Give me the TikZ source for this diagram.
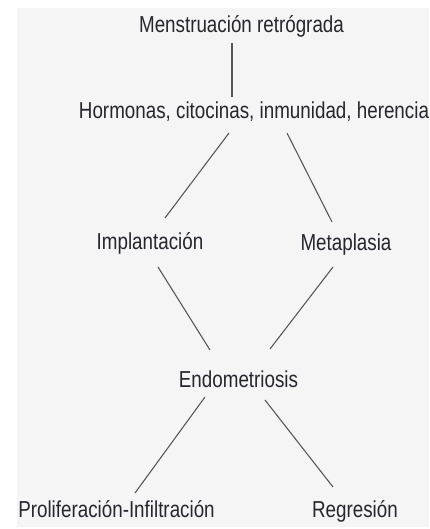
\documentclass[tikz,border=0pt]{standalone}
\usepackage{fontspec}
\setmainfont{Liberation Sans}[FakeStretch=0.815]
\usepackage{tikz}
\usetikzlibrary{positioning,calc}
\definecolor{paper}{HTML}{F5F5F5}
\definecolor{ink}{HTML}{262630}
\definecolor{wire}{HTML}{555555}

\begin{document}
\begin{tikzpicture} [x=0.75pt, y=-0.75pt,
        nodes={inner sep=0, anchor=base, text=ink, font=\fontsize{17.3}{20}\selectfont},
        link/.style={-, line width=0.8pt, wire}]
        \useasboundingbox (0,0) rectangle (429,529);
        \fill[paper] (17,8) rectangle (429,527);
        \node (mens) at (241.5,32) {Menstruación retrógrada};
        \node (horm) at (254,118) {Hormonas, citocinas, inmunidad, herencia};
        \node (impl) at (150,249) {Implantación};
        \node (meta) at (346,250) {Metaplasia};
        \node (endo) at (238.5,387) {Endometriosis};
        \node (prol) at (116.5,517) {Proliferación-Infiltración};
        \node (regr) at (355,517) {Regresión};
        \foreach \a/\ax/\ay/\b/\bx/\by in {mens/-9.5/11/horm/-22/-21,
            horm/-25/15/impl/15/-31, horm/33/15/meta/-14/-28,
            impl/8/18/endo/-28.5/-37, meta/-13/17/endo/31.5/-38,
            endo/-33.5/10/prol/18.5/-24, endo/26.5/13/regr/-22/-30} {
          \draw[link] ([shift={(\ax,\ay)}]\a.base) -- ([shift={(\bx,\by)}]\b.base);
        };
      \end{tikzpicture}
\end{document}
